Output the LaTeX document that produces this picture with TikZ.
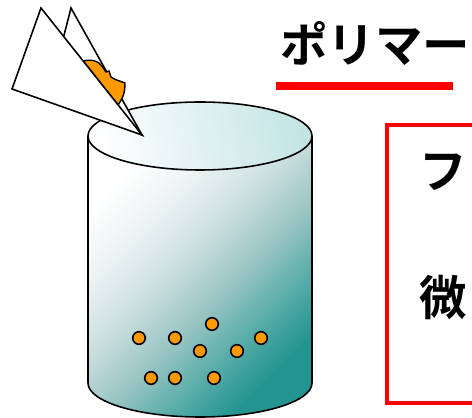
\documentclass[tikz,border=0pt]{standalone}
\usepackage{fontspec}
\newfontfamily\cjk{Noto Sans CJK JP Bold}
\usepackage{tikz}
\usetikzlibrary{positioning}
\usetikzlibrary{math}

\definecolor{tealc}{RGB}{36,148,144}
\definecolor{tealdeep}{RGB}{88,172,169}
\definecolor{tealmid}{RGB}{150,196,194}
\definecolor{tealpale}{RGB}{200,221,221}
\definecolor{tealfaint}{RGB}{233,241,241}
\definecolor{tealtop}{RGB}{196,228,228}
\definecolor{orangec}{RGB}{255,153,0}
\definecolor{redc}{RGB}{255,0,0}

% body of the beaker: dark at the bottom, white at the top
\pgfdeclareverticalshading{beakerbody}{100bp}{color(0bp)=(tealc); color(26bp)=(tealc);
  color(35bp)=(tealdeep); color(44bp)=(tealmid); color(54bp)=(tealpale);
  color(64bp)=(tealfaint); color(75bp)=(white); color(100bp)=(white)}

\tikzstyle{label} = [font=\cjk\fontsize{27pt}{27pt}\selectfont, anchor=west, inner sep=0pt]
\tikzstyle{bead} = [fill=orangec, draw=black, line width=0.9pt]
\tikzstyle{paper} = [fill=white, draw=black, line width=0.9pt, line join=miter]

\begin{document}
\begin{tikzpicture}[x=0.02cm, y=0.02cm]

  \tikzmath{\xmax = 472; \ymax = 418;}
  \useasboundingbox (0,0) rectangle (\xmax,\ymax);
  \clip (0,0) rectangle (\xmax,\ymax);

  % beaker
  \begin{scope}
    \tikzmath{\cx = 200; \rx = 112; \ry = 34; \ytop = 282; \ybot = 35;}

    \shade[shading=beakerbody, shading angle=45]
      (\cx-\rx,\ytop) -- (\cx-\rx,\ybot)
      arc[start angle=180, end angle=360, x radius=\rx, y radius=\ry]
      -- (\cx+\rx,\ytop)
      arc[start angle=0, end angle=-180, x radius=\rx, y radius=\ry] -- cycle;
    \draw[line width=0.9pt]
      (\cx-\rx,\ytop) -- (\cx-\rx,\ybot)
      arc[start angle=180, end angle=360, x radius=\rx, y radius=\ry]
      -- (\cx+\rx,\ytop);

    \shade[left color=white, right color=tealtop, shading angle=100]
      (\cx,\ytop) ellipse[x radius=\rx, y radius=\ry];
    \draw[line width=0.9pt] (\cx,\ytop) ellipse[x radius=\rx, y radius=\ry];

    % particles on the bottom
    \foreach \x/\y in {139/80, 175/80, 212/94, 261/80, 200/67, 237/67, 151/40, 175/40, 214/40} {
      \filldraw[bead] (\x,\y) circle (6.3);
    }
  \end{scope}

  % folded sheet with the coating
  \begin{scope}
    \draw[paper] (71,410) -- (50,328) -- (142,283) -- cycle;
    \filldraw[fill=orangec, draw=black, line width=0.8pt]
      (83,357) .. controls (92,359) and (98,357) .. (101,353)
      -- (104,349) -- (106,346) -- (109,347) -- (111,341)
      .. controls (115,338) and (120,337) .. (125,335)
      .. controls (125,325) and (123,320) .. (118,313) -- cycle;
    \draw[paper] (41,410) -- (12,329) -- (142,283) -- cycle;
  \end{scope}

  % heading
  \node[label] (poly) at (280,374) {ポリマー};
  \draw[redc, line width=4.5pt] (276,332) -- (453,332);

  % framed note on the right
  \draw[redc, line width=2pt] (387,293) rectangle (490,15);
  \node[label] (fu) at (419,246) {フ};
  \node[label] (bi) at (419,121) {微};

\end{tikzpicture}
\end{document}
